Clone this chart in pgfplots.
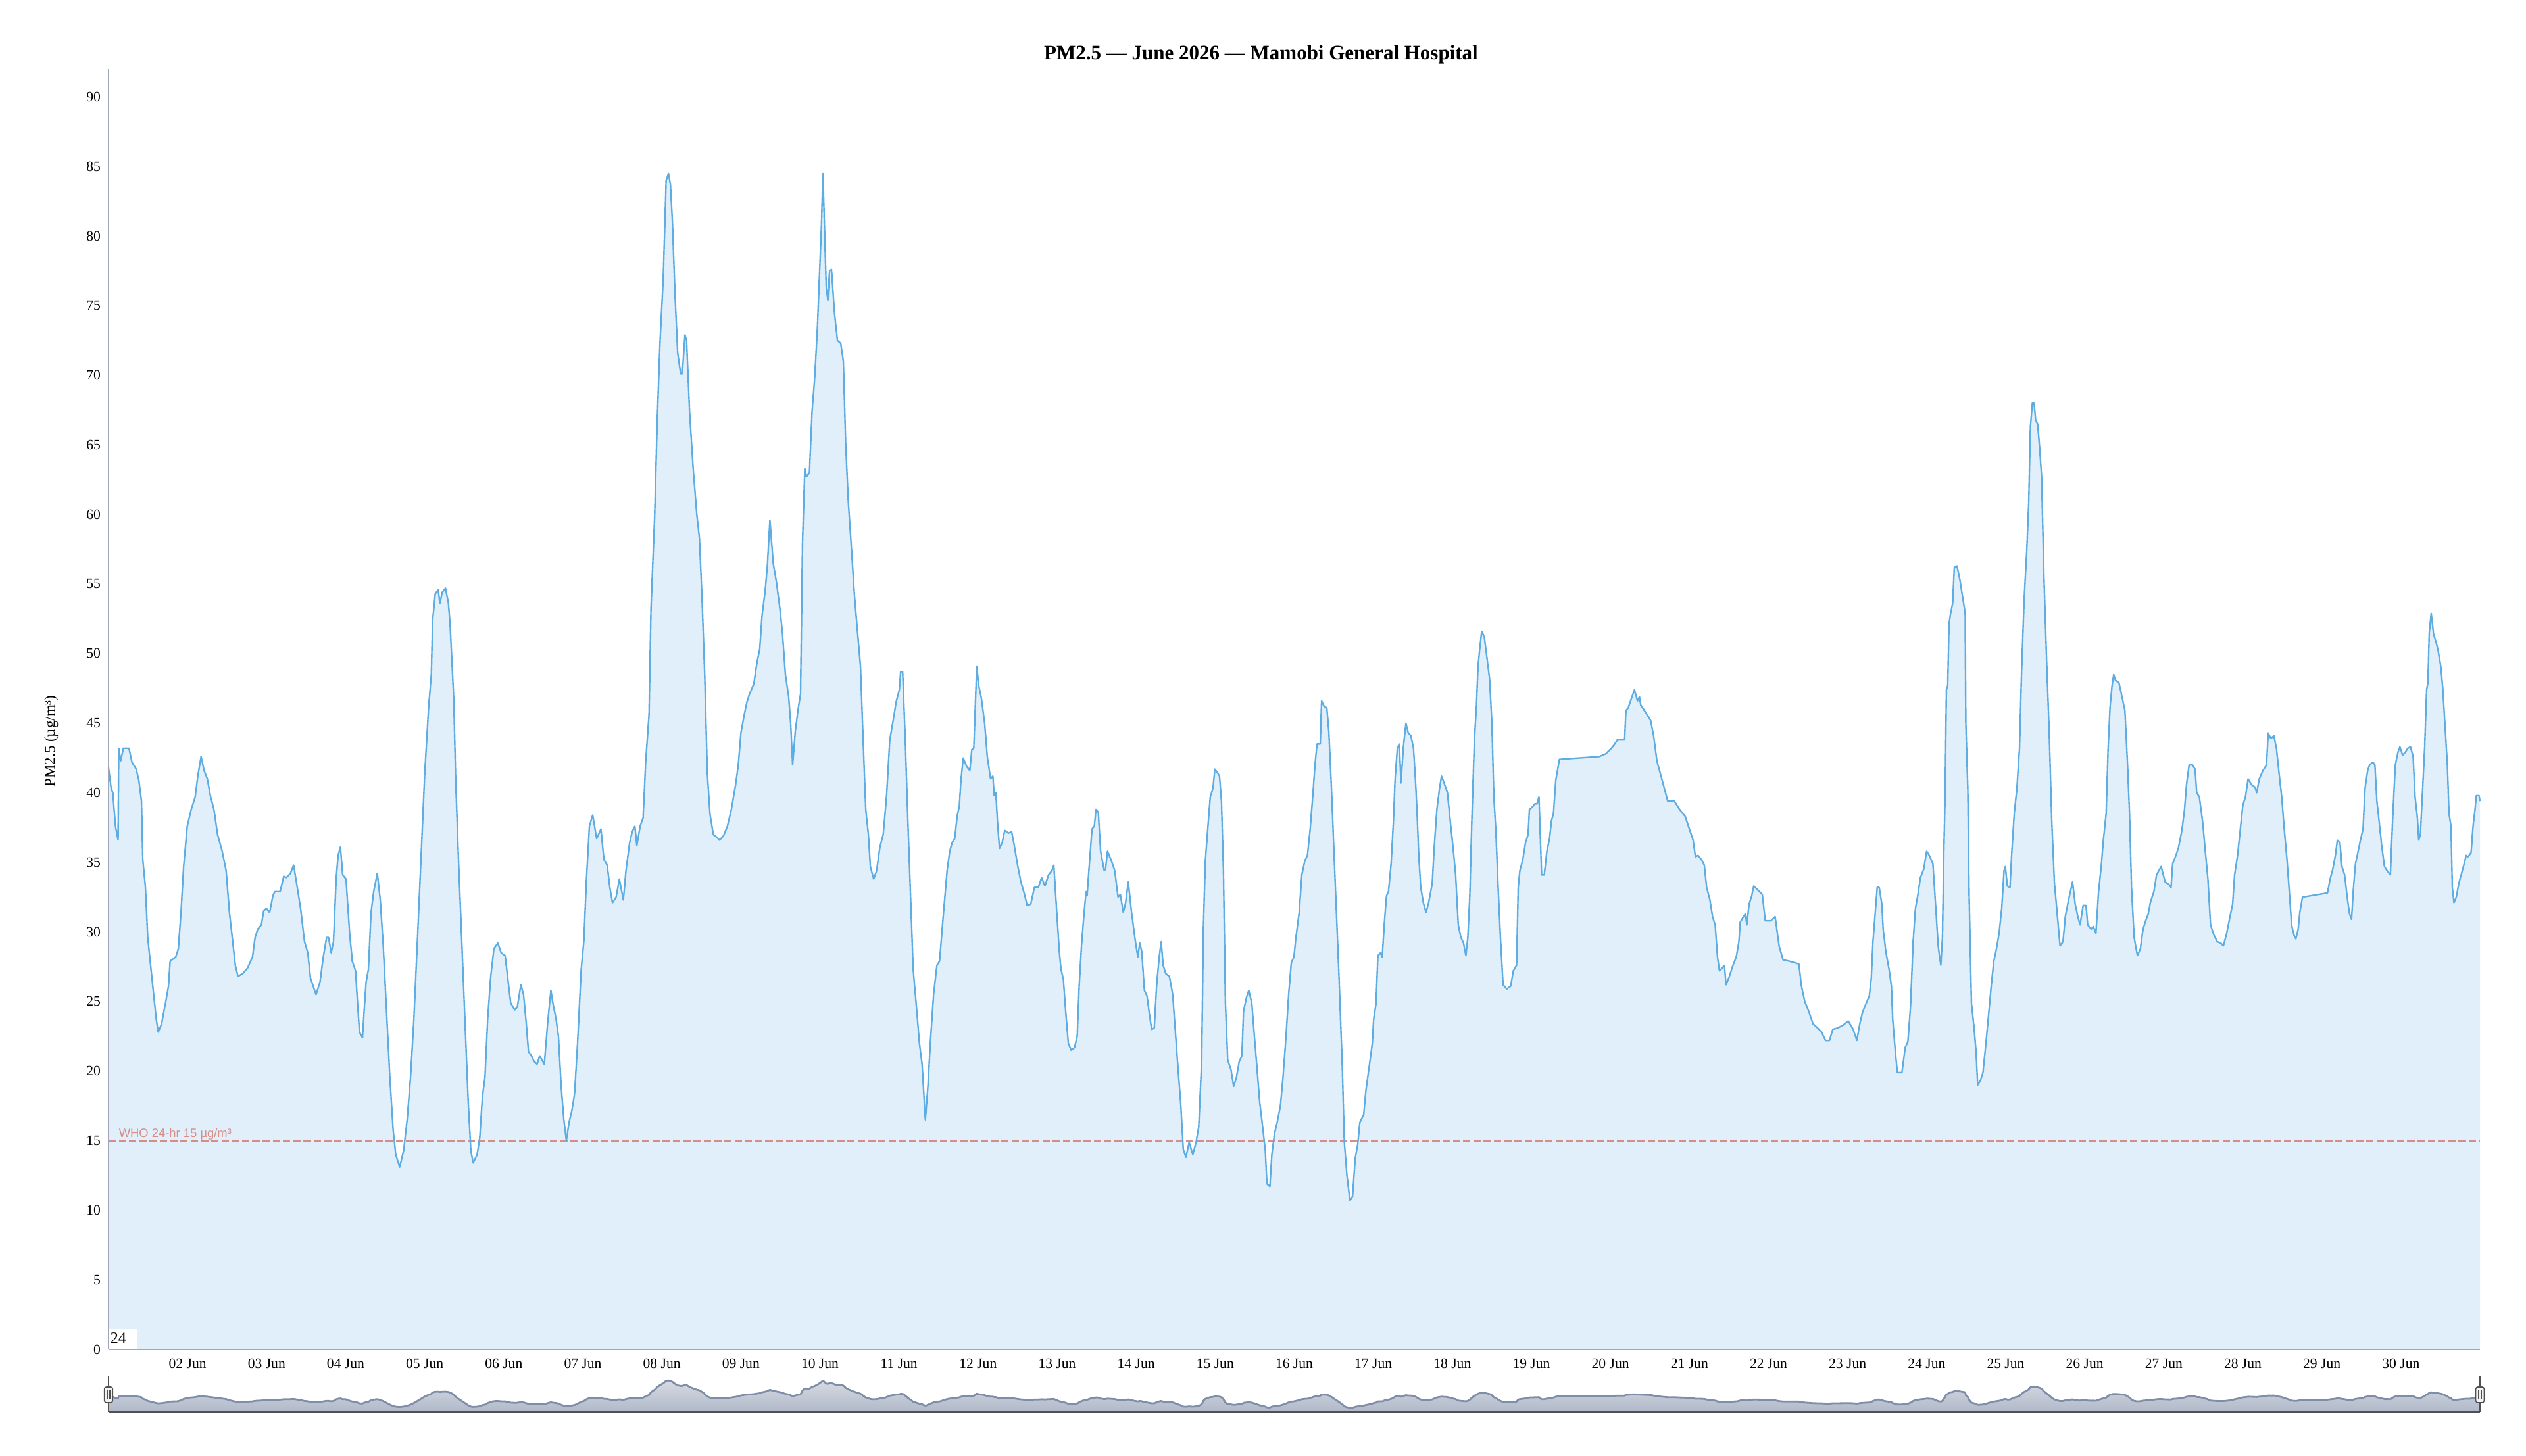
\documentclass[border=0pt]{standalone}
\usepackage{fontspec}
\setmainfont{Liberation Serif}
\newfontfamily\arialfont{Liberation Sans}
\usepackage{pgfplots}
\pgfplotsset{compat=1.18}
\usepackage{pgfplotstable}
\definecolor{pmline}{RGB}{93,173,226}
\definecolor{pmfill}{RGB}{225,239,250}
\definecolor{whocol}{RGB}{214,140,135}
\definecolor{axgray}{RGB}{160,168,184}
\definecolor{navline}{RGB}{127,142,168}
\definecolor{navfillt}{RGB}{214,218,226}
\definecolor{navfillb}{RGB}{176,184,200}
\definecolor{navdark}{RGB}{80,80,80}
\pgfplotstableread{
h v
0 41.8
0.8 40.3
1.3 40.0
2.1 37.6
2.9 36.6
3.1 43.2
3.7 42.3
4.5 43.2
6.2 43.2
7.1 42.2
8.4 41.7
9.2 40.9
10.0 39.4
10.4 35.2
11.2 33.2
11.9 29.6
12.9 27.3
13.7 25.5
14.5 23.7
15.1 22.8
16.1 23.4
17.3 24.9
18.2 26.1
18.7 27.9
20.4 28.2
21.2 28.8
22.0 31.4
22.8 34.7
23.9 37.6
25.1 38.8
26.3 39.7
27.1 41.2
28.1 42.6
29.0 41.6
30.0 41.0
30.9 39.8
32.0 38.8
33.1 37.0
34.5 35.8
35.7 34.4
36.7 31.4
37.7 29.3
38.5 27.6
39.3 26.8
40.7 27.0
42.2 27.4
43.7 28.2
44.5 29.6
45.3 30.2
46.4 30.5
47.1 31.5
47.9 31.7
48.9 31.4
49.9 32.6
50.5 32.9
52.1 32.9
53.2 34.0
54.0 33.9
55.2 34.2
56.2 34.8
57.3 33.2
58.3 31.7
59.5 29.3
60.5 28.5
61.3 26.7
63.0 25.5
64.2 26.4
65.2 28.2
66.2 29.6
66.8 29.6
67.6 28.5
68.3 29.3
69.1 33.8
69.7 35.5
70.4 36.1
71.1 34.1
72.1 33.8
73.2 29.9
74.0 27.9
75.0 27.2
75.6 24.9
76.2 22.8
77.1 22.4
77.6 24.3
78.2 26.4
78.9 27.3
79.7 31.4
80.5 32.9
81.6 34.2
82.5 32.3
83.4 29.0
84.4 24.3
85.4 19.6
86.4 15.8
87.2 14.0
88.4 13.1
89.6 14.3
90.7 16.6
91.7 19.6
92.7 23.7
93.7 29.0
94.8 34.9
96.0 41.4
97.2 46.2
98.0 48.5
98.4 52.4
99.2 54.3
100.1 54.6
100.6 53.6
101.3 54.4
102.3 54.7
103.2 53.6
103.7 52.1
104.8 46.8
105.4 40.9
106.2 35.5
107.2 29.6
108.2 23.7
109.2 17.8
110.0 14.3
110.7 13.4
111.9 14.0
112.7 15.2
113.5 18.1
114.3 19.6
115.1 23.7
116.0 26.7
117.0 28.8
118.2 29.2
119.2 28.5
120.4 28.3
121.2 26.7
122.1 24.9
123.3 24.4
124.1 24.6
125.2 26.2
126.0 25.5
126.8 23.5
127.5 21.4
128.4 21.1
129.2 20.7
130.1 20.5
130.9 21.1
132.3 20.5
133.3 23.4
134.3 25.8
134.9 24.9
135.9 23.7
136.6 22.5
137.4 19.0
138.2 16.6
139.0 15.0
139.8 16.3
140.7 17.2
141.5 18.4
142.4 22.0
143.5 27.3
144.3 29.3
145.1 33.8
146.0 37.6
147.0 38.4
148.2 36.7
149.5 37.4
150.4 35.2
151.4 34.8
152.2 33.2
153.0 32.1
154.1 32.5
155.1 33.8
156.3 32.3
157.1 34.4
158.2 36.4
159.0 37.2
159.8 37.6
160.4 36.2
161.4 37.6
162.3 38.2
163.1 42.3
164.1 45.6
164.7 53.3
165.8 59.8
166.6 66.8
167.4 72.2
168.4 76.9
169.3 84.0
170.0 84.5
170.6 83.7
171.2 81.0
172.0 75.7
172.8 71.6
173.7 70.1
174.2 70.1
175.0 72.9
175.5 72.5
176.4 67.4
177.5 63.3
178.6 60.0
179.4 58.3
180.2 53.9
181.0 48.5
181.8 41.4
182.6 38.5
183.6 37.0
184.7 36.8
185.5 36.6
186.7 36.9
187.9 37.6
189.1 38.8
190.4 40.6
191.2 42.0
192.0 44.3
193.0 45.6
193.8 46.5
194.6 47.1
195.9 47.8
196.9 49.4
197.7 50.3
198.4 52.7
199.3 54.4
200.0 56.2
200.8 59.6
201.8 56.5
202.8 55.1
203.8 53.3
204.6 51.5
205.5 48.5
206.5 46.9
207.1 45.0
207.7 42.0
208.5 44.4
209.3 45.9
210.1 47.1
210.7 58.0
211.4 63.3
211.9 62.7
212.8 63.0
213.6 67.4
214.4 69.8
215.2 73.3
216.0 78.1
216.4 80.4
216.9 84.5
217.4 80.4
217.9 76.3
218.4 75.4
218.9 77.5
219.5 77.6
220.4 74.5
221.3 72.5
222.3 72.3
223.1 71.0
223.8 65.1
224.6 60.9
225.6 57.4
226.4 54.4
227.2 52.1
228.3 49.1
229.1 43.8
229.9 38.8
230.7 37.0
231.3 34.7
232.3 33.8
233.2 34.4
234.2 36.1
235.2 37.0
236.2 39.7
237.2 43.8
238.3 45.3
239.1 46.5
240.1 47.4
240.5 48.7
241.1 48.7
241.9 43.8
242.7 37.9
243.5 32.6
244.3 27.3
245.4 24.3
246.2 22.0
247.0 20.5
248.0 16.5
248.8 19.0
249.5 22.0
250.5 25.5
251.5 27.6
252.3 27.9
253.1 30.2
254.6 34.4
255.4 35.8
256.1 36.4
256.9 36.7
257.7 38.4
258.3 39.0
258.8 40.9
259.5 42.5
260.5 41.9
261.5 41.6
262.1 43.1
262.7 43.2
263.6 49.1
264.2 47.7
265.0 46.8
266.0 45.0
266.8 42.6
267.8 41.0
268.5 41.2
268.9 39.8
269.4 40.0
269.9 37.9
270.5 36.0
271.3 36.4
272.1 37.3
273.2 37.1
274.2 37.2
275.0 36.2
276.0 34.8
277.0 33.6
278.1 32.7
278.9 31.9
280.0 32.0
281.1 33.2
282.3 33.2
283.3 33.9
284.3 33.3
285.4 34.1
286.4 34.4
287.0 34.8
287.9 31.4
288.7 28.5
289.2 27.3
289.9 26.6
290.6 24.3
291.4 22.0
292.3 21.5
293.3 21.7
294.1 22.5
294.7 26.1
295.4 29.0
296.2 31.4
296.8 32.9
297.1 32.6
297.8 34.9
298.6 37.4
299.3 37.6
299.8 38.8
300.5 38.6
301.2 35.8
302.3 34.4
302.7 34.5
303.3 35.8
304.5 35.1
305.5 34.4
306.5 32.5
307.2 32.7
308.1 31.4
308.8 32.1
309.6 33.6
310.6 31.4
311.6 29.6
312.5 28.2
313.1 29.2
313.7 28.6
314.5 25.8
315.3 25.4
315.9 24.3
316.7 23.0
317.5 23.1
318.2 26.1
319.0 28.2
319.6 29.3
320.2 27.6
321.0 27.0
322.1 26.8
323.1 25.5
324.0 22.5
324.9 19.6
325.5 17.8
326.3 14.4
327.1 13.8
328.1 14.9
329.2 14.0
330.2 14.9
331.0 16.0
331.9 20.8
332.4 30.2
333.0 35.1
333.8 37.6
334.5 39.7
335.3 40.3
335.9 41.7
336.8 41.4
337.3 41.2
337.9 39.4
338.5 34.4
339.1 24.9
339.8 20.8
340.8 20.1
341.6 18.9
342.4 19.5
343.3 20.7
344.1 21.1
344.6 24.3
345.5 25.3
346.2 25.8
347.1 24.9
347.9 22.5
348.7 20.2
349.5 17.8
350.4 16.0
351.2 14.3
351.7 11.9
352.6 11.7
353.2 14.0
354.0 15.5
354.8 16.3
355.8 17.5
356.6 19.6
357.5 22.5
358.3 25.5
359.1 27.8
359.9 28.2
360.5 29.6
361.5 31.4
362.3 34.1
363.2 35.1
364.0 35.5
364.8 37.3
365.6 39.7
366.3 42.0
366.9 43.5
367.9 43.5
368.3 46.6
369.1 46.2
369.9 46.1
370.5 44.4
371.3 40.3
372.0 36.1
372.8 31.4
373.6 26.7
374.6 20.2
375.2 14.9
376.0 12.5
376.9 10.7
377.7 11.0
378.5 13.7
379.3 14.8
379.9 16.3
381.1 16.9
381.7 18.5
382.5 19.9
383.2 21.1
383.7 22.0
384.1 23.7
384.8 24.8
385.4 28.3
386.2 28.5
386.7 28.2
387.4 30.8
388.0 32.6
388.6 32.9
389.4 34.9
390.1 37.9
390.6 40.9
391.3 43.2
391.9 43.5
392.4 40.7
393.1 43.2
393.9 45.0
394.6 44.3
395.4 44.1
396.2 43.2
396.8 40.9
397.3 38.5
397.8 35.5
398.4 33.2
399.2 32.1
400.0 31.4
400.8 32.1
401.9 33.5
402.5 36.1
403.3 38.8
404.1 40.3
404.7 41.2
405.5 40.7
406.5 40.0
407.4 37.9
408.2 36.1
409.0 34.1
409.8 30.5
410.6 29.6
411.4 29.2
412.1 28.3
412.7 29.6
413.3 32.6
413.9 37.9
414.7 43.8
415.3 46.2
415.8 49.1
416.3 50.3
416.9 51.6
417.7 51.2
418.5 49.7
419.3 48.2
420.0 45.0
420.6 39.7
421.2 37.3
421.9 33.2
422.6 29.6
423.4 26.2
424.5 25.9
425.7 26.1
426.5 27.2
427.5 27.6
428.0 33.2
428.5 34.4
429.4 35.2
430.2 36.4
431.0 37.0
431.4 38.8
432.4 39.0
433.0 39.2
433.7 39.2
434.3 39.7
435.1 34.1
435.9 34.1
436.7 35.8
437.5 36.7
438.1 38.0
438.7 38.5
439.4 40.9
440.5 42.4
452.6 42.6
454.6 42.8
456.3 43.2
457.3 43.5
458.1 43.8
460.3 43.8
460.7 45.9
461.4 46.1
462.4 46.8
463.3 47.4
464.2 46.6
464.8 46.9
465.2 46.3
466.9 45.7
468.2 45.2
469.1 44.1
470.1 42.3
471.7 40.9
473.4 39.4
475.4 39.4
477.0 38.8
478.7 38.3
480.1 37.3
481.1 36.6
481.8 35.4
482.6 35.5
483.6 35.2
484.5 34.8
485.2 33.2
486.2 32.3
487.0 31.1
487.8 30.5
488.5 28.2
489.1 27.2
489.9 27.4
490.6 27.6
491.1 26.2
492.1 26.8
493.2 27.6
494.2 28.2
495.0 29.3
495.4 30.7
496.4 31.1
497.0 31.3
497.4 30.5
498.1 32.0
498.9 32.6
499.5 33.3
502.1 32.7
503.0 30.8
504.7 30.8
506.0 31.1
507.2 29.0
508.4 28.0
510.3 27.9
513.2 27.7
514.0 26.1
515.0 25.0
516.2 24.3
517.5 23.4
518.9 23.1
520.1 22.8
521.3 22.2
522.5 22.2
523.5 23.0
525.0 23.1
526.6 23.3
528.2 23.6
529.7 23.0
530.8 22.2
531.7 23.4
532.5 24.2
533.5 24.8
534.6 25.4
535.2 26.7
535.7 29.3
536.4 31.4
537.0 33.2
537.6 33.2
538.4 32.0
538.8 30.2
539.6 28.6
540.6 27.3
541.3 26.1
541.7 23.7
542.5 21.4
543.1 19.9
544.5 19.9
545.5 21.7
546.3 22.1
547.1 24.6
547.9 29.3
548.6 31.7
549.3 32.6
550.1 33.9
551.1 34.5
552.0 35.8
552.8 35.5
553.9 34.9
554.7 32.0
555.5 29.0
556.3 27.6
556.8 29.6
557.2 35.5
557.6 39.7
558.0 47.4
558.4 47.7
558.8 52.1
559.2 52.8
559.9 53.6
560.4 56.2
561.2 56.3
562.1 55.3
562.9 54.1
563.7 52.9
563.9 45.0
564.5 40.3
564.9 32.6
565.6 24.9
566.4 23.1
567.0 21.4
567.5 19.0
568.3 19.3
569.1 19.9
570.0 22.0
570.8 24.0
571.6 26.1
572.4 27.9
573.2 28.8
574.0 29.9
574.8 31.7
575.5 34.4
575.9 34.7
576.5 33.3
577.3 33.2
577.8 35.5
578.6 38.5
579.4 40.3
580.2 43.2
580.8 48.5
581.6 53.9
582.4 57.4
583.0 60.9
583.5 66.3
584.1 68.0
584.6 68.0
585.1 66.8
585.7 66.5
586.3 64.8
586.9 62.7
587.6 55.6
588.4 49.7
589.2 44.4
590.0 37.9
590.8 33.5
591.6 31.4
592.5 29.0
593.4 29.3
594.1 31.1
595.1 32.3
596.3 33.6
597.1 32.0
597.9 31.1
598.6 30.5
599.5 31.9
600.4 31.9
600.9 30.5
602.0 30.2
602.6 30.4
603.4 29.9
604.2 32.9
605.0 34.7
605.7 36.7
606.5 38.5
607.1 43.2
607.7 46.2
608.3 47.7
608.8 48.5
609.3 48.1
610.4 47.9
611.4 46.8
612.2 45.9
613.0 42.0
613.6 38.5
614.2 33.2
615.0 29.6
616.0 28.3
616.9 28.8
617.7 30.2
618.5 30.8
619.3 31.3
619.9 32.1
621.0 32.9
621.8 34.1
623.2 34.7
624.4 33.6
625.6 33.4
626.2 33.2
626.7 34.9
627.7 35.5
628.5 36.1
629.5 37.3
630.3 38.8
630.9 40.6
631.7 42.0
632.7 42.0
633.5 41.7
634.0 40.0
634.8 39.7
635.8 37.9
636.6 35.8
637.4 33.8
638.2 30.5
639.2 29.8
640.2 29.3
641.3 29.2
642.1 29.0
643.1 29.9
644.1 31.1
644.9 32.0
645.5 34.1
646.4 35.5
647.2 37.3
648.0 39.1
648.8 39.7
649.6 41.0
650.6 40.6
651.7 40.4
652.2 40.0
653.0 41.0
654.1 41.6
655.2 42.0
655.7 44.3
656.5 43.9
657.4 44.1
658.2 43.2
659.0 41.4
659.8 39.7
660.6 37.3
661.4 35.2
662.2 32.6
662.8 30.5
663.5 29.8
664.1 29.5
664.8 30.2
665.3 31.4
666.1 32.5
673.7 32.8
674.5 33.8
675.3 34.5
676.1 35.5
676.7 36.6
677.5 36.4
678.1 34.7
678.9 34.1
679.8 32.3
680.4 31.3
681.0 30.9
681.6 33.2
682.2 34.9
683.0 35.8
683.8 36.7
684.5 37.4
685.1 40.3
685.9 41.6
686.5 42.0
687.5 42.2
688.1 42.0
688.7 39.4
689.4 37.9
690.2 36.1
691.0 34.7
691.8 34.4
692.8 34.1
693.5 38.2
694.3 42.0
695.1 42.9
695.7 43.3
696.5 42.7
697.3 42.9
698.1 43.2
698.9 43.3
699.7 42.6
700.3 39.7
701.0 38.2
701.4 36.6
701.9 37.0
702.6 40.3
703.2 43.2
703.8 47.4
704.2 47.9
704.6 51.5
705.2 52.9
705.9 51.4
706.7 50.8
707.3 50.2
708.1 49.1
708.7 47.5
709.5 44.4
710.1 42.0
710.6 38.5
711.2 37.6
711.6 33.2
712.1 32.1
712.8 32.5
713.6 33.5
714.4 34.2
715.2 34.9
715.8 35.5
716.4 35.4
717.3 35.7
717.9 37.6
718.5 38.8
718.9 39.8
719.7 39.8
720.0 39.4
}\pmdata
\begin{document}
\begin{tikzpicture}
\begin{axis}[
  at={(41.25pt,40.5pt)}, anchor=south west,
  scale only axis, width=901.25pt, height=486.75pt,
  xmin=0, xmax=720, ymin=0, ymax=92,
  clip=false, axis on top,
  axis x line*=bottom, axis y line*=left,
  axis line style={-, draw=axgray, line width=0.7pt},
  major tick length=0pt,
  xtick={24,48,...,696},
  xticklabels={02 Jun,03 Jun,04 Jun,05 Jun,06 Jun,07 Jun,08 Jun,09 Jun,10 Jun,11 Jun,12 Jun,13 Jun,14 Jun,15 Jun,16 Jun,17 Jun,18 Jun,19 Jun,20 Jun,21 Jun,22 Jun,23 Jun,24 Jun,25 Jun,26 Jun,27 Jun,28 Jun,29 Jun,30 Jun},
  ytick={0,5,...,90},
  tick label style={font=\fontsize{5.4}{6}\selectfont, text=black},
  /pgf/number format/assume math mode=true,
  xticklabel style={yshift=0pt},
  yticklabel style={xshift=0.5pt},
]
\addplot[draw=none, fill=pmfill] table[x=h,y=v]{\pmdata} \closedcycle;
\addplot[whocol, line width=0.65pt, dash pattern=on 2.8pt off 1.1pt] coordinates {(0,15) (720,15)};
\addplot[pmline, line width=0.6pt, line join=round] table[x=h,y=v]{\pmdata};
\node[anchor=base west, inner sep=0pt, text=whocol, font=\arialfont\fontsize{4.6}{5}\selectfont, yshift=1.25pt] at (axis cs:3,15) {WHO 24-hr 15 µg/m³};
\fill[white] (axis cs:0,0) rectangle ++(10.75pt,7.75pt);
\node[anchor=base west, inner sep=0pt, font=\fontsize{6}{7}\selectfont, xshift=0.5pt, yshift=2.5pt] at (axis cs:0,0) {24};
\end{axis}
\node[anchor=base, font=\bfseries\fontsize{7.75}{9.3}\selectfont] at (479.25pt,530.75pt) {PM2.5 — June 2026 — Mamobi General Hospital};
\node[rotate=90, font=\fontsize{5.75}{7}\selectfont] at (19.5pt,271.75pt) {PM2.5 (µg/m³)};
\begin{axis}[
  at={(41.25pt,16.75pt)}, anchor=south west,
  scale only axis, width=901.25pt, height=13pt,
  xmin=0, xmax=720, ymin=0, ymax=92,
  hide axis, clip=false,
]
\addplot[draw=none, top color=navfillt, bottom color=navfillb] table[x=h,y=v]{\pmdata} \closedcycle;
\addplot[navline, line width=0.7pt, line join=round] table[x=h,y=v]{\pmdata};
\draw[navdark, line width=0.8pt] (axis cs:0,0) -- (axis cs:720,0);
\draw[navdark, line width=0.45pt] (rel axis cs:0,0) -- (rel axis cs:0,1.06);
\draw[navdark, line width=0.45pt] (rel axis cs:1,0) -- (rel axis cs:1,1.06);
\draw[draw=navdark, fill=black!5, line width=0.4pt, rounded corners=0.8pt] (rel axis cs:0,0.27) ++(-1.6pt,0) rectangle ++(3.2pt,6pt);
\draw[navdark, line width=0.3pt] (rel axis cs:0,0.27) ++(-0.5pt,1.3pt) -- ++(0,3.4pt);
\draw[navdark, line width=0.3pt] (rel axis cs:0,0.27) ++(0.5pt,1.3pt) -- ++(0,3.4pt);
\draw[draw=navdark, fill=black!5, line width=0.4pt, rounded corners=0.8pt] (rel axis cs:1,0.27) ++(-1.6pt,0) rectangle ++(3.2pt,6pt);
\draw[navdark, line width=0.3pt] (rel axis cs:1,0.27) ++(-0.5pt,1.3pt) -- ++(0,3.4pt);
\draw[navdark, line width=0.3pt] (rel axis cs:1,0.27) ++(0.5pt,1.3pt) -- ++(0,3.4pt);
\end{axis}
\pgfresetboundingbox
\path (0,0) rectangle (960pt,553.5pt);
\end{tikzpicture}
\end{document}
